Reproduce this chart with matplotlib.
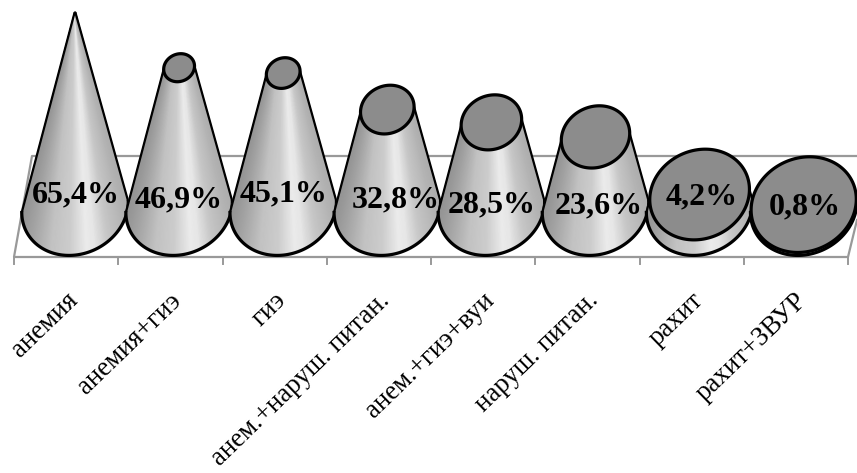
import numpy as np
import matplotlib
matplotlib.use("Agg")
import matplotlib.pyplot as plt

categories = ["анемия", "анемия+гиэ", "гиэ", "анем.+наруш. питан.",
              "анем.+гиэ+вуи", "наруш. питан.", "рахит", "рахит+ЗВУР"]
values = [65.4, 46.9, 45.1, 32.8, 28.5, 23.6, 4.2, 0.8]

# layout (pixels)
W, H = 857, 473
X0, STEP = 75.0, 104.1      # px of category 0, px per category
Y0, SCALE = 207.0, 2.97     # px of value 0, px per percent
A, B, TILT = 54.5, 47.0, np.radians(25)
APEX = 66.0
label_dx = [1, 0, 0, 8, 0, 3, 2, 1]
label_dy = [-12, -7, -13, -7, -2, -1, -10, 0]

fig = plt.figure(figsize=(W / 100, H / 100), dpi=100)
ax = fig.add_axes([0, 0, 1, 1])
ax.set_xlim(-X0 / STEP, (W - X0) / STEP)
ax.set_ylim(Y0 / SCALE - H / SCALE, Y0 / SCALE)
ax.axis("off")

px = lambda x: (x - X0) / STEP
py = lambda y: (Y0 - y) / SCALE

# back wall and floor
GRID = "#999999"
frame_x = [857, 32, 14, 848, 857]
frame_y = [156, 156, 257, 257, 220]
ax.plot(px(np.array(frame_x)), py(np.array(frame_y)), color=GRID, lw=1.6, zorder=1)
for k in range(len(categories) + 1):
    t = px(14 + k * (848 - 14) / len(categories))
    ax.plot([t, t], [py(257), py(264)], color=GRID, lw=1.4, zorder=1)


def ellipse(i, v, th, scale):
    a, b = A * scale, B * scale
    dx = a * np.cos(th) * np.cos(TILT) - b * np.sin(th) * np.sin(TILT)
    dy = a * np.cos(th) * np.sin(TILT) + b * np.sin(th) * np.cos(TILT)
    return i + dx / STEP, v + dy / SCALE


th_r = np.arctan(-(B / A) * np.tan(TILT))
th_front = np.linspace(th_r + np.pi, th_r + 2 * np.pi, 121)
th_all = np.linspace(0, 2 * np.pi, 241)
u_stops = [-1, -0.75, -0.45, -0.1, 0.22, 0.38, 0.62, 0.85, 1]
g_stops = [0.58, 0.66, 0.76, 0.80, 0.92, 0.90, 0.78, 0.72, 0.68]

for i, v in enumerate(values):
    s = 1 - v / APEX
    xb, yb = ellipse(i, 0, th_front, 1)
    xt, yt = ellipse(i, v, th_front, s)
    u = (xb - i) * STEP
    u = 2 * (u - u.min()) / (u.max() - u.min()) - 1
    gray = np.interp(u, u_stops, g_stops)
    ax.pcolormesh(np.vstack([xb, xt]), np.vstack([yb, yt]), np.vstack([gray, gray]),
                  shading="gouraud", cmap="gray", vmin=0, vmax=1, zorder=2 + i)
    ax.plot(xb, yb, color="black", lw=2.3, zorder=2 + i)
    ax.plot([xb[0], xt[0]], [yb[0], yt[0]], color="black", lw=1.6, zorder=2 + i,
            solid_capstyle="round")
    ax.plot([xb[-1], xt[-1]], [yb[-1], yt[-1]], color="black", lw=1.6, zorder=2 + i,
            solid_capstyle="round")
    xe, ye = ellipse(i, v, th_all, s)
    ax.fill(xe, ye, facecolor="#8c8c8c", edgecolor="black", lw=2.3 if s > 0.05 else 1.2,
            zorder=2 + i)
    ax.annotate(f"{v:.1f}%".replace(".", ","), (i, v), xycoords="data",
                xytext=(i + label_dx[i] / STEP, py(Y0 + label_dy[i])), textcoords="data",
                ha="center", va="center", family="Liberation Serif",
                fontweight="bold", fontsize=23, color="black", zorder=20)

for i, name in enumerate(categories):
    ax.text(px(14 + (i + 0.5) * (848 - 14) / len(categories) - 1), py(288), name,
            rotation=44, rotation_mode="anchor", ha="right", va="top",
            family="Liberation Serif", fontsize=19.4, color="black", zorder=20)

fig.savefig("out.png", dpi=100)
